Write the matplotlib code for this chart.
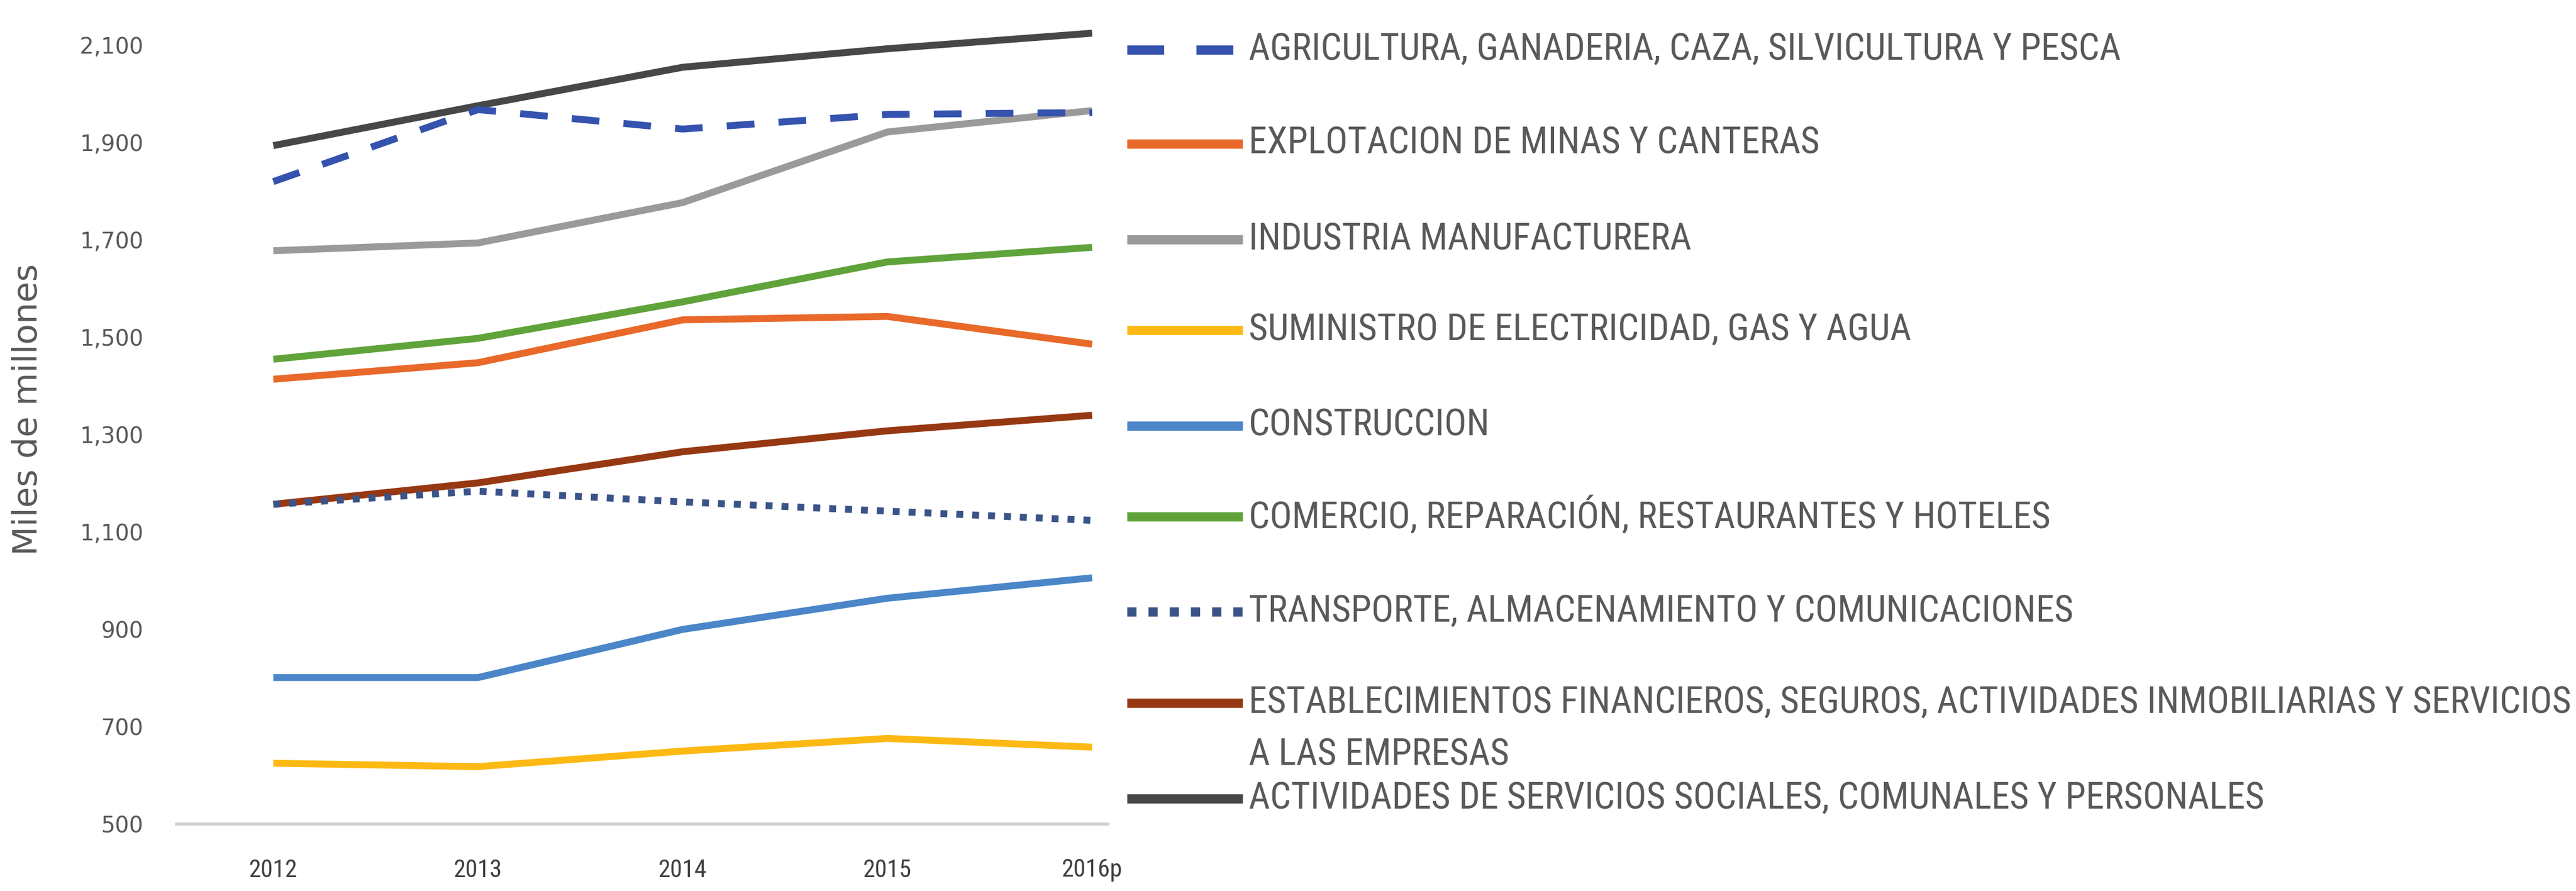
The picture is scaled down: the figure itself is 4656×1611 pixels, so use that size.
import matplotlib
matplotlib.use('Agg')
import matplotlib.pyplot as plt
from matplotlib import font_manager

# Datos (miles de millones)
years = ['2012', '2013', '2014', '2015', '2016p']
agricultura = [1820, 1968, 1928, 1958, 1962]
explotacion = [1414, 1448, 1536, 1543, 1486]
industria = [1678, 1694, 1777, 1922, 1966]
suministro = [625, 618, 650, 676, 658]
construccion = [801, 801, 900, 964, 1006]
comercio = [1455, 1498, 1573, 1655, 1685]
transporte = [1157, 1184, 1162, 1143, 1124]
establecimientos = [1157, 1201, 1265, 1308, 1340]
actividades = [1894, 1976, 2055, 2093, 2125]

labels = [
    'AGRICULTURA, GANADERIA, CAZA, SILVICULTURA Y PESCA',
    'EXPLOTACION DE MINAS Y CANTERAS',
    'INDUSTRIA MANUFACTURERA',
    'SUMINISTRO DE ELECTRICIDAD, GAS Y AGUA',
    'CONSTRUCCION',
    'COMERCIO, REPARACIÓN, RESTAURANTES Y HOTELES',
    'TRANSPORTE, ALMACENAMIENTO Y COMUNICACIONES',
    'ESTABLECIMIENTOS FINANCIEROS, SEGUROS, ACTIVIDADES INMOBILIARIAS Y SERVICIOS\nA LAS EMPRESAS',
    'ACTIVIDADES DE SERVICIOS SOCIALES, COMUNALES Y PERSONALES',
]
series = [agricultura, explotacion, industria, suministro, construccion,
          comercio, transporte, establecimientos, actividades]
colores = ['#3452AE', '#E8692A', '#9A9A9A', '#FDB913', '#4A86C8',
           '#5FA33A', '#3B5488', '#963812', '#474747']
estilos = [(0, (4, 3.5)), '-', '-', '-', '-', '-', (0, (1, 1.3)), '-', '-']
orden = [4, 2, 3, 2, 2, 2, 6, 3, 3]

# buscar una fuente estrecha para la leyenda
names = {f.name for f in font_manager.fontManager.ttflist}
leg_font, leg_stretch = 'DejaVu Sans', 'normal'
for fam in ['Liberation Sans Narrow', 'Roboto Condensed', 'Open Sans Condensed']:
    if fam in names:
        leg_font = fam
        break
else:
    ruta = font_manager.findfont(font_manager.FontProperties(family='DejaVu Sans', stretch='condensed'))
    if 'Condensed' in ruta:
        leg_stretch = 'condensed'

W, H = 4656, 1611
fig = plt.figure(figsize=(W / 100, H / 100), dpi=100)
ax = fig.add_axes([319 / W, 1 - 1490 / H, (2002 - 319) / W, (1490 - 38) / H])

x = list(range(len(years)))
for s, c, ls, z in zip(series, colores, estilos, orden):
    ax.plot(x, s, color=c, linestyle=ls, linewidth=9, zorder=z,
            solid_capstyle='butt', dash_capstyle='butt')

ax.set_xlim(-0.473, 4.076)
ax.set_ylim(500, 2150)
ax.set_yticks(range(500, 2101, 200))
ax.set_yticklabels([f'{v:,}' for v in range(500, 2101, 200)])
ax.set_xticks(x)
ax.set_xticklabels(years, family=leg_font, fontstretch=leg_stretch)
ax.tick_params(axis='y', length=0, pad=43, labelsize=29, labelcolor='#595959')
ax.tick_params(axis='x', length=0, pad=45, labelsize=32, labelcolor='#404040')
for sp in ['top', 'right', 'left']:
    ax.spines[sp].set_visible(False)
ax.spines['bottom'].set_color('#D0D0D0')
ax.spines['bottom'].set_linewidth(4)
ax.set_ylabel('Miles de millones', fontsize=44, color='#595959')
ax.yaxis.set_label_coords((80 - 319) / (2002 - 319), (1490 - 740) / (1490 - 38))

# Leyenda manual en coordenadas de píxel
lg = fig.add_axes([0, 0, 1, 1])
lg.set_xlim(0, W)
lg.set_ylim(H, 0)
lg.axis('off')
filas = [90, 260, 433, 597, 770, 934, 1106, 1271, 1444]
textos = []
for y, lab, c, ls in zip(filas, labels, colores, estilos):
    lg.plot([2037, 2246], [y, y], color=c, linestyle=ls, linewidth=12,
            solid_capstyle='butt', dash_capstyle='butt')
    lineas = lab.split('\n')
    for k, linea in enumerate(lineas):
        t = lg.text(2257, y + 95 * k, linea, va='center', ha='left', fontsize=40,
                    color='#595959', family=leg_font, fontstretch=leg_stretch)
        textos.append(t)

# ajustar el tamaño para que la línea más larga ocupe el mismo ancho
fig.canvas.draw()
r = fig.canvas.get_renderer()
ancho = max(t.get_window_extent(r).width for t in textos)
escala = (4643 - 2257) / ancho
for t in textos:
    t.set_fontsize(40 * escala)

fig.savefig('out.png', dpi=100, facecolor='white')
